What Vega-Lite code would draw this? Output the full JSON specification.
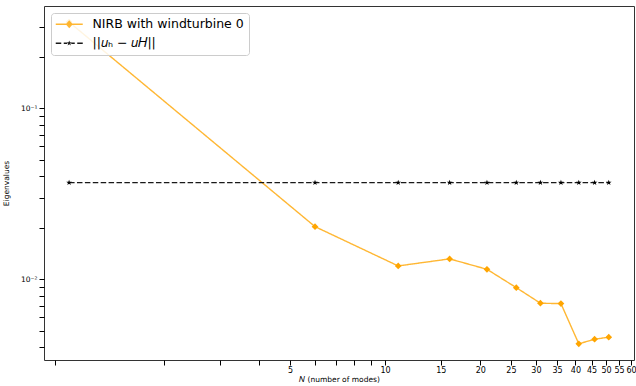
{
  "$schema": "https://vega.github.io/schema/vega-lite/v6.json",
  "width": 590,
  "height": 354,
  "autosize": {"type": "none"},
  "padding": {"left": 44, "top": 6, "right": 2, "bottom": 26},
  "config": {
    "font": "DejaVu Sans",
    "view": {"stroke": "#333333", "strokeWidth": 1},
    "axis": {
      "grid": false,
      "domain": false,
      "tickColor": "#000000",
      "tickSize": 5,
      "tickWidth": 1,
      "labelFont": "DejaVu Sans",
      "titleFont": "DejaVu Sans",
      "labelColor": "#000000",
      "titleColor": "#000000",
      "titleFontWeight": "normal",
      "labelOverlap": false
    },
    "legend": {
      "orient": "top-left",
      "offset": 7,
      "padding": 5,
      "fillColor": "rgba(255,255,255,0.85)",
      "strokeColor": "#cccccc",
      "cornerRadius": 3,
      "labelFont": "DejaVu Sans",
      "labelFontSize": 12.5,
      "labelColor": "#000000",
      "labelOffset": 24,
      "rowPadding": 6,
      "symbolSize": 100,
      "symbolStrokeWidth": 0,
      "symbolOpacity": 1
    }
  },
  "data": {
    "values": [
      {"n": 1, "v": 0.319, "s": "NIRB with windturbine 0"},
      {"n": 6, "v": 0.0203, "s": "NIRB with windturbine 0"},
      {"n": 11, "v": 0.01196, "s": "NIRB with windturbine 0"},
      {"n": 16, "v": 0.01315, "s": "NIRB with windturbine 0"},
      {"n": 21, "v": 0.01143, "s": "NIRB with windturbine 0"},
      {"n": 26, "v": 0.00893, "s": "NIRB with windturbine 0"},
      {"n": 31, "v": 0.00724, "s": "NIRB with windturbine 0"},
      {"n": 36, "v": 0.0072, "s": "NIRB with windturbine 0"},
      {"n": 41, "v": 0.00419, "s": "NIRB with windturbine 0"},
      {"n": 46, "v": 0.00446, "s": "NIRB with windturbine 0"},
      {"n": 51, "v": 0.00458, "s": "NIRB with windturbine 0"},
      {"n": 1, "v": 0.0367, "s": "||𝑢ₕ − 𝑢𝐻||"},
      {"n": 6, "v": 0.0367, "s": "||𝑢ₕ − 𝑢𝐻||"},
      {"n": 11, "v": 0.0367, "s": "||𝑢ₕ − 𝑢𝐻||"},
      {"n": 16, "v": 0.0367, "s": "||𝑢ₕ − 𝑢𝐻||"},
      {"n": 21, "v": 0.0367, "s": "||𝑢ₕ − 𝑢𝐻||"},
      {"n": 26, "v": 0.0367, "s": "||𝑢ₕ − 𝑢𝐻||"},
      {"n": 31, "v": 0.0367, "s": "||𝑢ₕ − 𝑢𝐻||"},
      {"n": 36, "v": 0.0367, "s": "||𝑢ₕ − 𝑢𝐻||"},
      {"n": 41, "v": 0.0367, "s": "||𝑢ₕ − 𝑢𝐻||"},
      {"n": 46, "v": 0.0367, "s": "||𝑢ₕ − 𝑢𝐻||"},
      {"n": 51, "v": 0.0367, "s": "||𝑢ₕ − 𝑢𝐻||"}
    ]
  },
  "encoding": {
    "x": {
      "field": "n",
      "type": "quantitative",
      "scale": {"type": "log", "domain": [0.833, 61.3], "nice": false, "zero": false},
      "axis": {
        "title": "𝑁 (number of modes)",
        "titleFontSize": 7.5,
        "titlePadding": 1,
        "labelFontSize": 8,
        "labelPadding": 1,
        "values": [0.9, 2, 3, 4, 5, 6, 7, 8, 9, 10, 15, 20, 25, 30, 35, 40, 45, 50, 55, 60],
        "labelExpr": "(datum.value >= 5 && datum.value % 5 == 0) ? datum.label : ''"
      }
    },
    "y": {
      "field": "v",
      "type": "quantitative",
      "scale": {"type": "log", "domain": [0.00337, 0.396], "nice": false, "zero": false},
      "axis": {
        "title": "Eigenvalues",
        "titleFontSize": 7.5,
        "titlePadding": 10,
        "labelFontSize": 7.5,
        "labelPadding": 2,
        "values": [0.004, 0.005, 0.006, 0.007, 0.008, 0.009, 0.01, 0.02, 0.03, 0.04, 0.05, 0.06, 0.07, 0.08, 0.09, 0.1, 0.2, 0.3],
        "labelExpr": "datum.value == 0.1 ? '10⁻¹' : (datum.value == 0.01 ? '10⁻²' : '')"
      }
    }
  },
  "layer": [
    {
      "mark": {"type": "line", "strokeWidth": 1.4},
      "encoding": {
        "color": {
          "field": "s",
          "type": "nominal",
          "sort": null,
          "scale": {"domain": ["NIRB with windturbine 0", "||𝑢ₕ − 𝑢𝐻||"], "range": ["#FFA500", "#000000"]},
          "legend": {"title": null}
        },
        "opacity": {
          "field": "s",
          "type": "nominal",
          "sort": null,
          "scale": {"domain": ["NIRB with windturbine 0", "||𝑢ₕ − 𝑢𝐻||"], "range": [0.8, 0.9]},
          "legend": null
        },
        "strokeDash": {
          "field": "s",
          "type": "nominal",
          "sort": null,
          "scale": {"domain": ["NIRB with windturbine 0", "||𝑢ₕ − 𝑢𝐻||"], "range": [[1, 0], [5.5, 2.4]]},
          "legend": null
        }
      }
    },
    {
      "transform": [{"filter": "datum.s == 'NIRB with windturbine 0'"}],
      "mark": {"type": "point", "filled": true, "opacity": 1, "shape": "diamond", "size": 45},
      "encoding": {
        "color": {"field": "s", "type": "nominal", "sort": null, "legend": {"title": null}}
      }
    },
    {
      "transform": [{"filter": "datum.s != 'NIRB with windturbine 0'"}],
      "mark": {"type": "point", "filled": true, "opacity": 1, "size": 36, "shape": "M0,-1L0.235,-0.324L0.951,-0.309L0.38,0.124L0.588,0.809L0,0.4L-0.588,0.809L-0.38,0.124L-0.951,-0.309L-0.235,-0.324Z"},
      "encoding": {
        "color": {"field": "s", "type": "nominal", "sort": null, "legend": {"title": null}}
      }
    },
    {
      "mark": {"type": "point", "filled": true, "opacity": 0},
      "encoding": {
        "color": {"field": "s", "type": "nominal", "sort": null, "legend": {"title": null}},
        "shape": {
          "field": "s",
          "type": "nominal",
          "sort": null,
          "scale": {
            "domain": ["NIRB with windturbine 0", "||𝑢ₕ − 𝑢𝐻||"],
            "range": [
              "M-1.3,-0.15H4.1V0.15H-1.3ZM1.4,-0.8L2.1,0L1.4,0.8L0.7,0Z",
              "M-1.3,-0.15H-0.2V0.15H-1.3ZM0.3,-0.15H1V0.15H0.3ZM1.8,-0.15H2.5V0.15H1.8ZM3,-0.15H4.1V0.15H3ZM1.4,-0.55L1.529,-0.178L1.923,-0.17L1.609,0.068L1.723,0.445L1.4,0.22L1.077,0.445L1.191,0.068L0.877,-0.17L1.271,-0.178Z"
            ]
          },
          "legend": {"title": null}
        }
      }
    }
  ]
}
